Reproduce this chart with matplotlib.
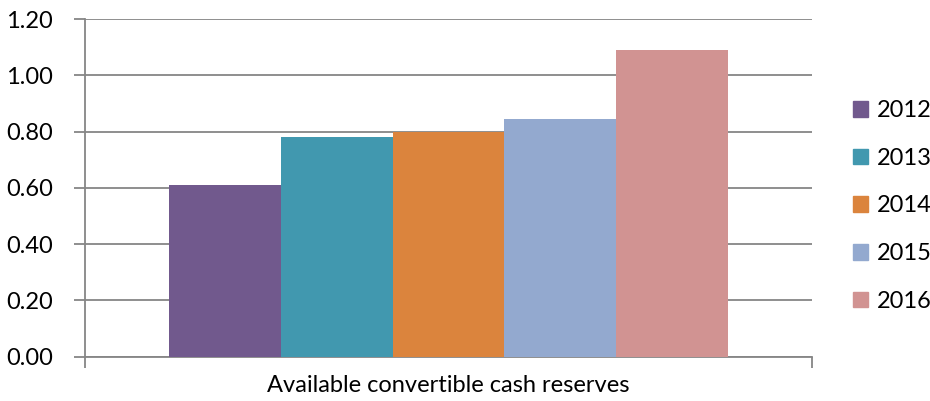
import matplotlib
matplotlib.use("Agg")
import matplotlib.pyplot as plt
from matplotlib.patches import Rectangle

plt.rcParams['font.family'] = ['Lato', 'DejaVu Sans']

category = "Available convertible cash reserves"
years = ["2012", "2013", "2014", "2015", "2016"]
values = [0.61, 0.78, 0.80, 0.845, 1.09]
colors = ["#71598D", "#4198AF", "#DB843D", "#93A9CF", "#D19392"]
yticks = [0.0, 0.2, 0.4, 0.6, 0.8, 1.0, 1.2]

fig = plt.figure(figsize=(9.3, 4.01), dpi=100)
ax = fig.add_axes([85/930, 1-356.7/401, (812-85)/930, (356.7-19)/401])

grey = "#868686"
fs = 17
n = len(years)
w = 0.154
for i, (y, v, c) in enumerate(zip(years, values, colors)):
    ax.bar(0.5 + (i - (n-1)/2) * w, v, width=w, color=c, label=y, zorder=3)

ax.set_xlim(0, 1)
ax.set_ylim(0, 1.2)
ax.set_yticks(yticks)
ax.set_yticklabels([f"{t:.2f}" for t in yticks], fontsize=fs, color="black")
ax.yaxis.grid(True, color=grey, linewidth=1.3, zorder=0)
ax.set_axisbelow(True)

ax.set_xticks([0.5])
ax.set_xticklabels([category], fontsize=fs)
ax.set_xticks([0, 1], minor=True)
ax.tick_params(axis='x', which='major', length=0, pad=13)
ax.tick_params(axis='x', which='minor', length=8, width=1.3, color=grey, direction='out')
ax.tick_params(axis='y', length=8, width=1.3, color=grey, direction='out', pad=15)

for s in ['top', 'right']:
    ax.spines[s].set_visible(False)
for s in ['left', 'bottom']:
    ax.spines[s].set_color(grey)
    ax.spines[s].set_linewidth(1.3)

# legend
handles = [Rectangle((0, 0), 1, 1, color=c) for c in colors]
leg = fig.legend(handles, years, loc='center left', bbox_to_anchor=(853/930, 1-206/401),
                 frameon=False, fontsize=fs, handlelength=0.64, handleheight=0.64,
                 handletextpad=0.35, labelspacing=1.13, borderpad=0, borderaxespad=0)

fig.savefig("out.png", dpi=100)
